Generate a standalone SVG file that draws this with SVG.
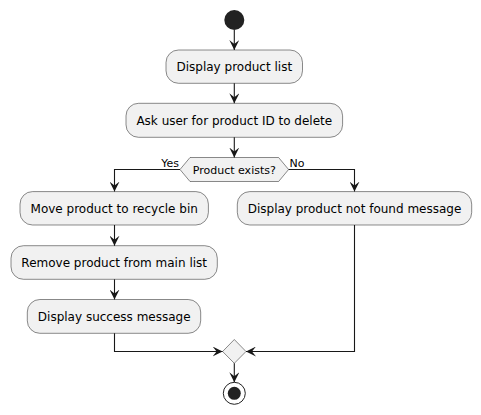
<svg xmlns="http://www.w3.org/2000/svg" width="481" height="415" viewBox="0 0 481 415">
<style>
.box{fill:#F1F1F1;stroke:#181818;stroke-width:0.5}
.t{font-family:"DejaVu Sans",sans-serif;font-size:12px;fill:#000;text-anchor:middle}
.s{font-family:"DejaVu Sans",sans-serif;font-size:11px;fill:#000}
.c{fill:none;stroke:#181818;stroke-width:1.1}
</style>
<defs>
<marker id="ah" viewBox="0 0 10 10" refX="10" refY="5" markerWidth="10" markerHeight="10" markerUnits="userSpaceOnUse" orient="auto">
<path d="M0,0 L10,5 L0,10 L4,5 Z" fill="#181818"/>
</marker>
</defs>
<rect width="481" height="415" fill="#FFFFFF"/>
<g id="start"><circle cx="234.3" cy="20" r="10" fill="#222222"/></g>
<g id="n1"><rect class="box" x="166" y="50" width="136.5" height="33.3" rx="12.5"/><text class="t" x="234.3" y="71.3">Display product list</text></g>
<g id="n2"><rect class="box" x="126" y="103.3" width="216.6" height="34" rx="12.5"/><text class="t" x="234.3" y="124.8">Ask user for product ID to delete</text></g>
<g id="d1"><polygon class="box" points="180,169.5 190,157.5 278.6,157.5 288.6,169.5 278.6,181.5 190,181.5"/><text class="s" x="234.3" y="173.5" text-anchor="middle">Product exists?</text></g>
<g id="n3"><rect class="box" x="20" y="191.6" width="188.4" height="33.4" rx="12.5"/><text class="t" x="114.2" y="212.8">Move product to recycle bin</text></g>
<g id="n4"><rect class="box" x="237.3" y="191.6" width="234.4" height="33.4" rx="12.5"/><text class="t" x="354.5" y="212.8">Display product not found message</text></g>
<g id="n5"><rect class="box" x="11" y="245.7" width="206.3" height="33.6" rx="12.5"/><text class="t" x="114.2" y="267">Remove product from main list</text></g>
<g id="n6"><rect class="box" x="27.3" y="299.5" width="173.4" height="33.8" rx="12.5"/><text class="t" x="114.2" y="321">Display success message</text></g>
<g id="merge"><polygon class="box" points="234.3,339.5 246,351.5 234.3,363.3 222.6,351.5"/></g>
<g id="end"><circle cx="234.3" cy="393.3" r="11" fill="none" stroke="#222222" stroke-width="1"/><circle cx="234.3" cy="393.3" r="6.5" fill="#222222"/></g>
<g id="connectors">
<path class="c" d="M234.3,30 V50" marker-end="url(#ah)"/>
<path class="c" d="M234.3,83.3 V103.3" marker-end="url(#ah)"/>
<path class="c" d="M234.3,137.3 V157.5" marker-end="url(#ah)"/>
<path class="c" d="M180,169.5 H114.5 V191.6" marker-end="url(#ah)"/>
<path class="c" d="M288.6,169.5 H354.5 V191.6" marker-end="url(#ah)"/>
<path class="c" d="M114.5,225 V245.7" marker-end="url(#ah)"/>
<path class="c" d="M114.5,279.3 V299.5" marker-end="url(#ah)"/>
<path class="c" d="M114.5,333.3 V351.5 H222.6" marker-end="url(#ah)"/>
<path class="c" d="M354.5,225 V351.5 H246" marker-end="url(#ah)"/>
<path class="c" d="M234.3,363.3 V382.3" marker-end="url(#ah)"/>
<text class="s" x="179" y="166.5" text-anchor="end">Yes</text>
<text class="s" x="289.5" y="166.5">No</text>
</g>
</svg>
